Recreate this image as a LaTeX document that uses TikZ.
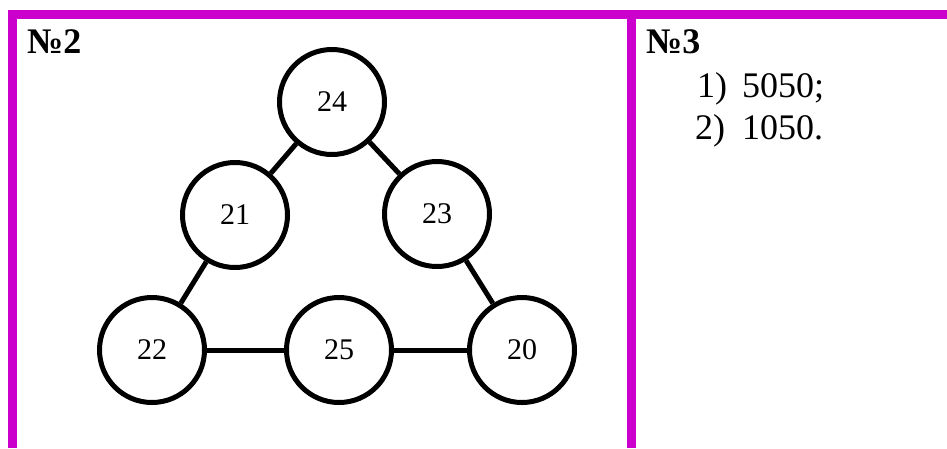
\documentclass[tikz,border=0pt]{standalone}
\usepackage{fontspec}
\setmainfont{Liberation Serif}
\definecolor{frame}{HTML}{CC00CC}
\begin{document}
\begin{tikzpicture}[x=1pt,y=-1pt,
  frameline/.style={draw=frame,line width=9pt},
  numnode/.style={circle,draw=black,line width=5pt,minimum size=105pt,inner sep=0pt,font=\fontsize{30}{34}\selectfont},
  link/.style={draw=black,line width=5pt},
  label/.style={anchor=base west,inner sep=0pt,font=\fontsize{36}{40}\selectfont},
  title/.style={anchor=base west,inner sep=0pt,font=\fontsize{36}{40}\selectfont\bfseries}]
\useasboundingbox (0,0) rectangle (947,448);
\draw[frameline] (8,14.5) -- (947,14.5);
\draw[frameline] (12.5,10) -- (12.5,448);
\draw[frameline] (631.5,10) -- (631.5,448);
\node[title] (t2) at (27,53) {№2};
\node[title] (t3) at (646,53) {№3};
\node[label] (i1) at (697,97) {1)};
\node[label] (v1) at (742,97) {5050;};
\node[label] (i2) at (695,139) {2)};
\node[label] (v2) at (742,139) {1050.};
\node[numnode] (n24) at (332,102) {24};
\node[numnode] (n21) at (235,215) {21};
\node[numnode] (n23) at (437,214) {23};
\node[numnode] (n22) at (152,350) {22};
\node[numnode] (n25) at (339,350) {25};
\node[numnode] (n20) at (522,350) {20};
\draw[link] (n24) -- (n21);
\draw[link] (n24) -- (n23);
\draw[link] (n21) -- (n22);
\draw[link] (n23) -- (n20);
\draw[link] (n22) -- (n25);
\draw[link] (n25) -- (n20);
\end{tikzpicture}
\end{document}
